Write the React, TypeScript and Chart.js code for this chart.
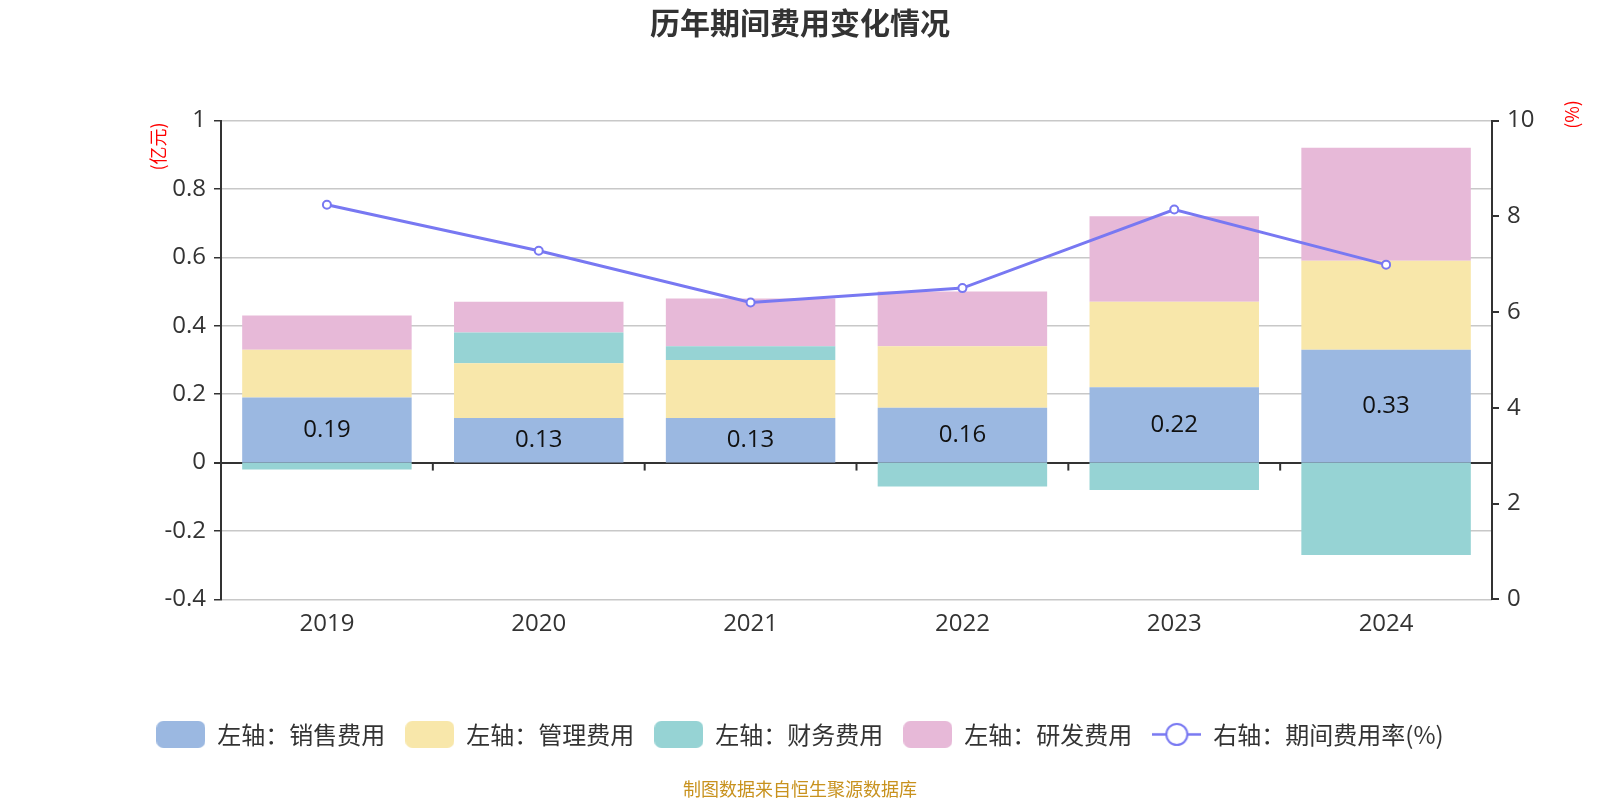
import { useEffect, useRef } from 'react'
import { Chart, registerables } from 'chart.js'

Chart.register(...registerables)

const FONT = '"Open Sans", "Noto Sans CJK SC", sans-serif'
const CJK = '"Noto Sans CJK SC", "Open Sans", sans-serif'

const years = ['2019', '2020', '2021', '2022', '2023', '2024']
const salesCost = [0.19, 0.13, 0.13, 0.16, 0.22, 0.33]
const adminCost = [0.14, 0.16, 0.17, 0.18, 0.25, 0.26]
const financeCost = [-0.02, 0.09, 0.04, -0.07, -0.08, -0.27]
const rdCost = [0.1, 0.09, 0.14, 0.16, 0.25, 0.33]
const expenseRate = [8.24, 7.28, 6.2, 6.5, 8.14, 6.99]

const seriesNames = ['左轴：销售费用', '左轴：管理费用', '左轴：财务费用', '左轴：研发费用', '右轴：期间费用率(%)']
const barColors = ['#9bb8e1', '#f8e7aa', '#96d3d4', '#e7b9d8']
const lineColor = '#7878f2'

function boxIcon(color: string) {
  const c = document.createElement('canvas')
  c.width = 49
  c.height = 27
  const ctx = c.getContext('2d')!
  ctx.fillStyle = color
  ctx.beginPath()
  ctx.roundRect(0, 0, 49, 27, 7)
  ctx.fill()
  return c
}

function lineIcon(color: string) {
  const c = document.createElement('canvas')
  c.width = 49
  c.height = 27
  const ctx = c.getContext('2d')!
  ctx.strokeStyle = color
  ctx.lineWidth = 2.5
  ctx.beginPath()
  ctx.moveTo(0, 13.5)
  ctx.lineTo(49, 13.5)
  ctx.stroke()
  ctx.fillStyle = '#fff'
  ctx.lineWidth = 2
  ctx.beginPath()
  ctx.arc(24.5, 13.5, 10.5, 0, Math.PI * 2)
  ctx.fill()
  ctx.stroke()
  return c
}

const extras = {
  id: 'extras',
  afterDatasetsDraw(chart: any) {
    const { ctx, chartArea, scales } = chart
    const x = scales.x
    const y = scales.y
    const zeroY = y.getPixelForValue(0)
    ctx.save()
    // small ticks on the zero axis between categories
    ctx.strokeStyle = '#333'
    ctx.lineWidth = 2
    for (let i = 0; i < years.length - 1; i++) {
      const px = (x.getPixelForValue(i) + x.getPixelForValue(i + 1)) / 2
      ctx.beginPath()
      ctx.moveTo(px, zeroY)
      ctx.lineTo(px, zeroY + 8)
      ctx.stroke()
    }
    // values of the sales bars
    const meta = chart.getDatasetMeta(0)
    ctx.fillStyle = '#111'
    ctx.font = `24px ${FONT}`
    ctx.textAlign = 'center'
    ctx.textBaseline = 'middle'
    meta.data.forEach((bar: any, i: number) => {
      ctx.fillText(salesCost[i].toFixed(2), bar.x, (bar.y + bar.base) / 2)
    })
    // axis units
    ctx.fillStyle = '#ff0000'
    ctx.font = `18px ${CJK}`
    ctx.translate(chartArea.left - 63, chartArea.top + 26)
    ctx.rotate(-Math.PI / 2)
    ctx.fillText('(亿元)', 0, 0)
    ctx.restore()
    ctx.save()
    ctx.fillStyle = '#ff0000'
    ctx.font = `18px ${CJK}`
    ctx.textAlign = 'center'
    ctx.textBaseline = 'middle'
    ctx.translate(chartArea.right + 80, chartArea.top - 6)
    ctx.rotate(-Math.PI / 2)
    ctx.fillText('(%)', 0, 0)
    ctx.restore()
  },
}

export default function App() {
  const chartRef = useRef<HTMLCanvasElement>(null)

  useEffect(() => {
    if (!chartRef.current) return
    const icons = [...barColors.map(boxIcon), lineIcon(lineColor)]
    const bar = (i: number, data: number[]) => ({
      type: 'bar' as const,
      label: seriesNames[i],
      data,
      backgroundColor: barColors[i],
      borderWidth: 0,
      yAxisID: 'y',
      order: 1,
      barPercentage: 0.8,
      categoryPercentage: 1,
    })
    const chart = new Chart(chartRef.current, {
      data: {
        labels: years,
        datasets: [
          bar(0, salesCost),
          bar(1, adminCost),
          bar(2, financeCost),
          bar(3, rdCost),
          {
            type: 'line',
            label: seriesNames[4],
            data: expenseRate,
            borderColor: lineColor,
            borderWidth: 3,
            pointRadius: 4,
            pointBorderWidth: 2,
            pointBackgroundColor: '#fff',
            pointBorderColor: lineColor,
            yAxisID: 'y1',
            order: 0,
          },
        ],
      } as any,
      options: {
        responsive: false,
        animation: false,
        layout: { padding: 0 },
        scales: {
          x: {
            stacked: true,
            grid: { display: false, drawTicks: false },
            border: { display: false },
            ticks: { color: '#333', font: { size: 24, family: FONT }, padding: 10 },
            afterFit: (s: any) => {
              s.height = 103
            },
          },
          y: {
            stacked: true,
            min: -0.4,
            max: 1,
            ticks: {
              stepSize: 0.2,
              color: '#333',
              font: { size: 24, family: FONT },
              padding: 8,
              callback: (v: any) => String(Number(Number(v).toFixed(1))),
            },
            grid: {
              color: (c: any) => (c.tick && Math.abs(c.tick.value) < 1e-9 ? '#333' : '#c8c8c8'),
              lineWidth: (c: any) => (c.tick && Math.abs(c.tick.value) < 1e-9 ? 2 : 1.5),
              tickColor: '#333',
              tickLength: 7,
            },
            border: { color: '#333', width: 2 },
            afterFit: (s: any) => {
              s.width = 221
            },
          },
          y1: {
            position: 'right',
            min: 0,
            max: 10,
            ticks: { stepSize: 2, color: '#333', font: { size: 24, family: FONT }, padding: 8 },
            grid: { drawOnChartArea: false, tickColor: '#333', tickLength: 7, lineWidth: 2 },
            border: { color: '#333', width: 2 },
            afterFit: (s: any) => {
              s.width = 108
            },
          },
        },
        plugins: {
          title: {
            display: true,
            text: '历年期间费用变化情况',
            color: '#333',
            font: { size: 30, weight: 'bold', family: CJK },
            padding: { top: 4.5, bottom: 80 },
          },
          subtitle: {
            display: true,
            position: 'bottom',
            text: '制图数据来自恒生聚源数据库',
            color: '#c8921e',
            font: { size: 18, family: CJK },
            padding: { top: 22, bottom: 0 },
          },
          legend: {
            position: 'bottom',
            labels: {
              usePointStyle: true,
              pointStyleWidth: 49,
              padding: 20,
              color: '#333',
              font: { size: 24, family: CJK },
              generateLabels: () =>
                seriesNames.map((text, i) => ({
                  text,
                  pointStyle: icons[i],
                  datasetIndex: i,
                  hidden: false,
                  fontColor: '#333',
                  lineWidth: 0,
                })) as any,
            },
          },
          tooltip: { enabled: false },
        },
      } as any,
      plugins: [extras],
    })

    return () => {
      chart.destroy()
    }
  }, [])

  return (
    <div style={{ position: 'fixed', left: 0, top: 0, width: 1600, height: 800, background: '#fff' }}>
      <canvas ref={chartRef} width={1600} height={800} />
    </div>
  )
}
